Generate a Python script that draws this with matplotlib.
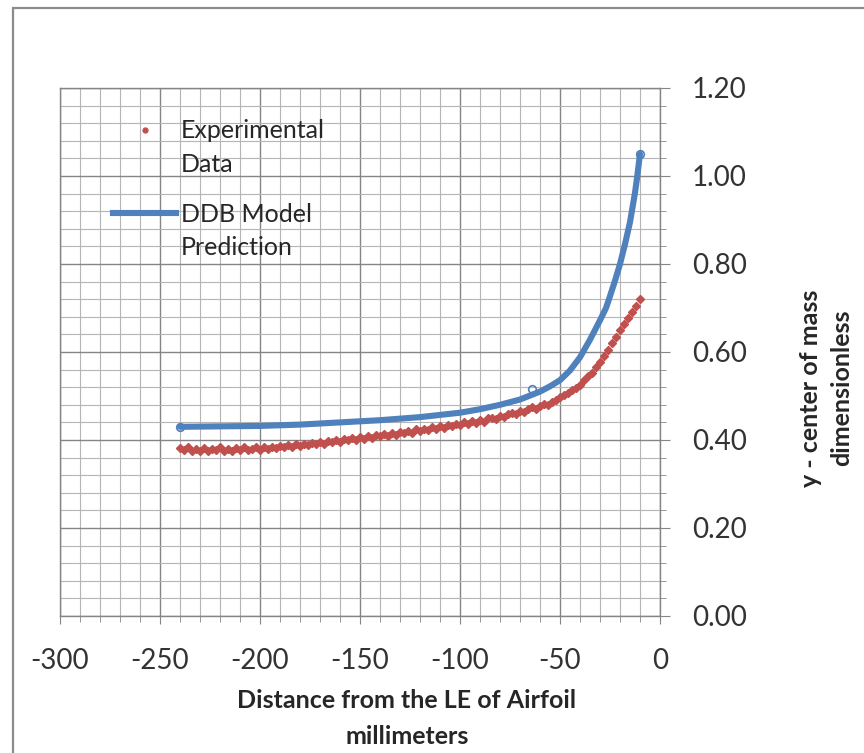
import numpy as np
import matplotlib
matplotlib.use('Agg')
import matplotlib.pyplot as plt
from matplotlib.lines import Line2D
from matplotlib.patches import Rectangle

# --- DATA ---
exp_x = list(range(-240, -8, 2))
exp_y = [0.381, 0.377, 0.383, 0.375, 0.379, 0.376, 0.382, 0.374, 0.380, 0.377,
         0.383, 0.376, 0.379, 0.374, 0.381, 0.378, 0.384, 0.377, 0.380, 0.383,
         0.378, 0.385, 0.380, 0.384, 0.381, 0.386, 0.383, 0.388, 0.384, 0.390,
         0.386, 0.392, 0.389, 0.394, 0.390, 0.396, 0.392, 0.398, 0.395, 0.400,
         0.396, 0.402, 0.399, 0.404, 0.400, 0.406, 0.403, 0.409, 0.405, 0.411,
         0.408, 0.413, 0.410, 0.416, 0.412, 0.418, 0.415, 0.421, 0.417, 0.424,
         0.420, 0.426, 0.423, 0.429, 0.425, 0.432, 0.428, 0.435, 0.431, 0.437,
         0.434, 0.440, 0.436, 0.443, 0.439, 0.446, 0.442, 0.449, 0.451, 0.447,
         0.455, 0.452, 0.459, 0.462, 0.458, 0.466, 0.463, 0.470, 0.474, 0.471,
         0.478, 0.482, 0.479, 0.487, 0.492, 0.497, 0.503, 0.507, 0.513, 0.519,
         0.526, 0.536, 0.545, 0.553, 0.566, 0.578, 0.592, 0.604, 0.620, 0.634,
         0.650, 0.664, 0.677, 0.690, 0.705, 0.720]

ddb_x = [-240, -220, -200, -180, -160, -140, -120, -100, -90, -80, -70, -60,
         -55, -50, -45, -40, -38.5, -35, -30, -27, -25, -22.5, -20, -17.5, -15,
         -12.5, -11.5, -10]
ddb_y = [0.430, 0.431, 0.432, 0.435, 0.440, 0.445, 0.452, 0.462, 0.470, 0.480,
         0.492, 0.510, 0.522, 0.536, 0.558, 0.588, 0.600, 0.628, 0.672, 0.700,
         0.727, 0.762, 0.800, 0.845, 0.895, 0.962, 0.995, 1.050]
# stray open-circle points of the model series
ddb_pts_x = [-240, -64, -10]
ddb_pts_y = [0.430, 0.516, 1.050]

x_ticks = [-300, -250, -200, -150, -100, -50, 0]
y_ticks = [0.0, 0.2, 0.4, 0.6, 0.8, 1.0, 1.2]

RED = '#C0504D'
BLUE = '#4F81BD'
FONT = 'Lato'
TXT = '#262626'

W, H = 864, 753
fig = plt.figure(figsize=(W / 100, H / 100), dpi=100)
fig.patch.set_facecolor('white')

def fx(px):
    return px / W

def fy(py):
    return 1 - py / H

# chart-area border (left and top visible)
fig.add_artist(Rectangle((fx(13), -0.02), 1.1, fy(8) + 0.02,
                         transform=fig.transFigure, fill=False,
                         edgecolor='#8c8c8c', lw=1.6))

ax = fig.add_axes([fx(60), fy(616), 600 / W, 528 / H])
ax.set_xlim(-300, 0)
ax.set_ylim(0, 1.2)

ax.set_xticks(x_ticks)
ax.set_xticks(np.arange(-300, 1, 10), minor=True)
ax.set_yticks(y_ticks)
ax.set_yticks(np.arange(0, 1.2001, 0.04), minor=True)
ax.grid(which='major', color='#858585', lw=1.0)
ax.grid(which='minor', color='#b5b5b5', lw=0.8)
ax.set_axisbelow(True)

ax.yaxis.tick_right()
ax.set_xticklabels([f'{v}' for v in x_ticks], fontsize=20, family=FONT, color='#333333')
ax.set_yticklabels([f'{v:.2f}' for v in y_ticks], fontsize=20, family=FONT, color='#333333')
ax.tick_params(axis='x', which='major', direction='out', length=6, pad=17, color='#858585')
ax.tick_params(axis='x', which='minor', direction='out', length=4, color='#858585')
ax.tick_params(axis='y', which='major', direction='out', length=7, pad=16, color='#858585')
ax.tick_params(axis='y', which='minor', direction='out', length=4, color='#858585')
for s in ax.spines.values():
    s.set_color('#858585')
    s.set_linewidth(1.0)

ax.plot(exp_x, exp_y, ls='none', marker='D', ms=3.6, color=RED, mec=RED)
ax.plot(ddb_x, ddb_y, color=BLUE, lw=4.4, solid_capstyle='round')
ax.plot(ddb_pts_x, ddb_pts_y, ls='none', marker='o', ms=5.5, mfc='none',
        mec=BLUE, mew=1.2)

# legend, drawn by hand so the key sits on the first text line as in Excel
fig.add_artist(Line2D([fx(145)], [fy(130)], ls='none', marker='o', ms=3.5,
                      color=RED, transform=fig.transFigure))
fig.add_artist(Line2D([fx(113), fx(176)], [fy(213), fy(213)], color=BLUE,
                      lw=4.4, transform=fig.transFigure))
for txt, py in [('Experimental', 131), ('Data', 164),
                ('DDB Model', 214), ('Prediction', 248)]:
    fig.text(fx(181), fy(py), txt, ha='left', va='center', fontsize=18,
             family=FONT, color=TXT)

fig.text(fx(407), fy(700), 'Distance from the LE of Airfoil', ha='center',
         va='center', fontsize=18, fontweight='bold', family=FONT, color=TXT)
fig.text(fx(407), fy(737), 'millimeters', ha='center', va='center',
         fontsize=18, fontweight='bold', family=FONT, color=TXT)
fig.text(fx(810), fy(388), 'y - center of mass', ha='center', va='center',
         rotation=90, fontsize=18, fontweight='bold', family=FONT, color=TXT)
fig.text(fx(842), fy(388), 'dimensionless', ha='center', va='center',
         rotation=90, fontsize=18, fontweight='bold', family=FONT, color=TXT)

fig.savefig('out.png', dpi=100)
